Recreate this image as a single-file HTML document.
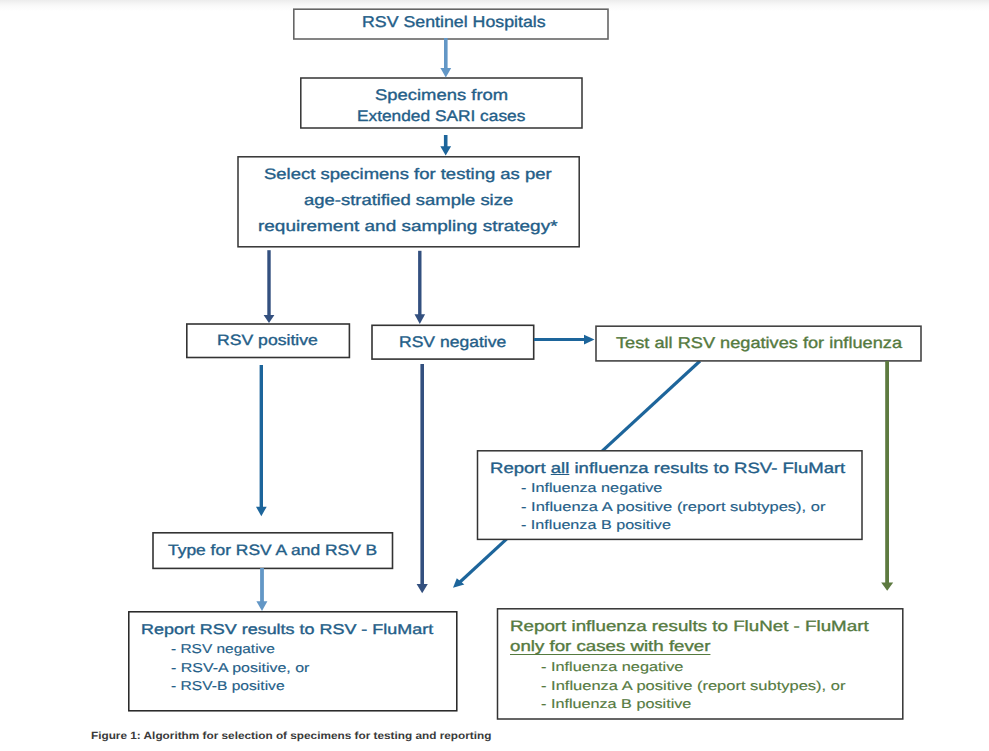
<!DOCTYPE html>
<html><head><meta charset="utf-8"><style>
html,body{margin:0;padding:0;background:#fff;}
body{width:989px;height:751px;position:relative;overflow:hidden;font-family:"Liberation Sans",sans-serif;}
.topband{position:absolute;left:0;top:0;width:989px;height:12px;background:linear-gradient(#ececec,#f4f4f4 25%,#fafafa 50%,#fefefe 85%,#fff);}
svg{position:absolute;left:0;top:0;}
.t{position:absolute;white-space:nowrap;transform-origin:0 0;text-rendering:geometricPrecision;-webkit-text-stroke:0.35px currentColor;}
u{text-decoration-thickness:1.4px;text-underline-offset:2.6px;text-decoration-skip-ink:none;}
</style></head><body>
<div class="topband"></div>
<svg width="989" height="751" viewBox="0 0 989 751">
<line x1="700" y1="361" x2="460" y2="582" stroke="#1d659b" stroke-width="3.1"/>
<g fill="#fff" stroke-linejoin="miter">
<rect x="293.8" y="9.2" width="314.2" height="29.8" stroke="#666" stroke-width="1.6"/>
<rect x="300.8" y="78" width="281.2" height="50" stroke="#333" stroke-width="1.5"/>
<rect x="238" y="156.8" width="341.2" height="90" stroke="#333" stroke-width="1.5"/>
<rect x="186.8" y="324" width="162.6" height="33.5" stroke="#333" stroke-width="1.6"/>
<rect x="372" y="325.3" width="161.7" height="33.8" stroke="#333" stroke-width="1.6"/>
<rect x="596" y="326.2" width="325" height="34.7" stroke="#444" stroke-width="1.6"/>
<rect x="477.5" y="450.8" width="384.5" height="88.6" stroke="#333" stroke-width="1.5"/>
<rect x="153" y="532.8" width="239.5" height="35.6" stroke="#333" stroke-width="1.6"/>
<rect x="128.8" y="611.8" width="328" height="99" stroke="#222" stroke-width="1.5"/>
<rect x="497.5" y="608.8" width="405.3" height="110.2" stroke="#333" stroke-width="1.5"/>
</g>
<g>
<!-- arrow 1 light blue -->
<line x1="445.8" y1="38" x2="445.8" y2="69" stroke="#6397c6" stroke-width="3.6"/>
<polygon points="440.4,68 451.2,68 445.8,77.6" fill="#6397c6"/>
<!-- arrow 2 -->
<line x1="445.7" y1="135" x2="445.7" y2="147" stroke="#1d659b" stroke-width="3.6"/>
<polygon points="440.3,146.3 451.1,146.3 445.7,155.6" fill="#1d659b"/>
<!-- arrow 3 navy -->
<line x1="269" y1="250.2" x2="269" y2="316" stroke="#33507f" stroke-width="3.4"/>
<polygon points="263.6,315 274.4,315 269,323" fill="#33507f"/>
<!-- arrow 4 navy -->
<line x1="419.8" y1="250.8" x2="419.8" y2="315" stroke="#33507f" stroke-width="3.4"/>
<polygon points="414.5,314.3 425.1,314.3 419.8,324" fill="#33507f"/>
<!-- arrow 5 horizontal -->
<line x1="534" y1="339.6" x2="585" y2="339.6" stroke="#1d659b" stroke-width="3"/>
<polygon points="584,334.8 584,344.4 594.5,339.6" fill="#1d659b"/>
<!-- arrow 6 -->
<line x1="261.3" y1="365" x2="261.3" y2="508" stroke="#1d659b" stroke-width="3.4"/>
<polygon points="256,506.7 266.7,506.7 261.3,516.3" fill="#1d659b"/>
<!-- arrow 10 light blue -->
<line x1="262" y1="568" x2="262" y2="602" stroke="#6397c6" stroke-width="3.8"/>
<polygon points="256.4,601.2 267.4,601.2 262,611" fill="#6397c6"/>
<!-- arrow 7 navy -->
<line x1="422.2" y1="364" x2="422.2" y2="585" stroke="#33507f" stroke-width="3.6"/>
<polygon points="416.6,584 427.8,584 422.2,593.2" fill="#33507f"/>
<!-- diagonal -->
<polygon points="453,587.8 456.8,578.3 464.3,584.6" fill="#1d659b"/>
<!-- green -->
<line x1="887.1" y1="361" x2="887.1" y2="583" stroke="#5d7a40" stroke-width="3.8"/>
<polygon points="881.2,582.4 893.2,582.4 887.2,590.8" fill="#5d7a40"/>
</g>
</svg>

<div class="t" id="t0" style="left:361.56px;top:15.10px;font-size:15.63px;line-height:15.63px;color:#245e88;transform:scaleX(1.1367)">RSV Sentinel Hospitals</div>
<div class="t" id="t1" style="left:374.58px;top:88.00px;font-size:15.33px;line-height:15.33px;color:#245e88;transform:scaleX(1.2023)">Specimens from</div>
<div class="t" id="t2" style="left:357.36px;top:108.80px;font-size:15.33px;line-height:15.33px;color:#245e88;transform:scaleX(1.1288)">Extended SARI cases</div>
<div class="t" id="t3" style="left:264.43px;top:167.30px;font-size:15.19px;line-height:15.19px;color:#245e88;transform:scaleX(1.2173)">Select specimens for testing as per</div>
<div class="t" id="t4" style="left:303.69px;top:193.40px;font-size:15.19px;line-height:15.19px;color:#245e88;transform:scaleX(1.2148)">age-stratified sample size</div>
<div class="t" id="t5" style="left:257.89px;top:219.30px;font-size:15.19px;line-height:15.19px;color:#245e88;transform:scaleX(1.2494)">requirement and sampling strategy*</div>
<div class="t" id="t6" style="left:217.43px;top:333.30px;font-size:15.04px;line-height:15.04px;color:#245e88;transform:scaleX(1.1718)">RSV positive</div>
<div class="t" id="t7" style="left:399.45px;top:335.40px;font-size:15.33px;line-height:15.33px;color:#245e88;transform:scaleX(1.1435)">RSV negative</div>
<div class="t" id="t8" style="left:615.54px;top:335.80px;font-size:15.63px;line-height:15.63px;color:#557a3f;transform:scaleX(1.1636)">Test all RSV negatives for influenza</div>
<div class="t" id="t9" style="left:167.62px;top:542.50px;font-size:15.04px;line-height:15.04px;color:#245e88;transform:scaleX(1.1593)">Type for RSV A and RSV B</div>
<div class="t" id="t10" style="left:489.51px;top:461.60px;font-size:14.90px;line-height:14.90px;color:#245e88;transform:scaleX(1.2442)">Report <u style="text-underline-offset:1.3px;text-decoration-thickness:1.2px">all</u> influenza results to RSV- FluMart</div>
<div class="t" id="t11" style="left:140.61px;top:622.80px;font-size:14.32px;line-height:14.32px;color:#245e88;transform:scaleX(1.2536)">Report RSV results to RSV - FluMart</div>
<div class="t" id="t12" style="left:509.58px;top:619.10px;font-size:15.04px;line-height:15.04px;color:#557a3f;transform:scaleX(1.2480)">Report influenza results to FluNet - FluMart</div>
<div class="t" id="t13" style="left:510.25px;top:639.40px;font-size:15.04px;line-height:15.04px;color:#557a3f;transform:scaleX(1.2431)"><u>only for cases with fever</u></div>
<div class="t" id="t14" style="left:520.77px;top:481.80px;font-size:12.86px;line-height:12.86px;color:#245e88;-webkit-text-stroke-width:0.15px;transform:scaleX(1.2593)">- Influenza negative</div>
<div class="t" id="t15" style="left:520.71px;top:500.50px;font-size:12.86px;line-height:12.86px;color:#245e88;-webkit-text-stroke-width:0.15px;transform:scaleX(1.2827)">- Influenza A positive (report subtypes), or</div>
<div class="t" id="t16" style="left:520.75px;top:518.70px;font-size:12.86px;line-height:12.86px;color:#245e88;-webkit-text-stroke-width:0.15px;transform:scaleX(1.2559)">- Influenza B positive</div>
<div class="t" id="t17" style="left:171.39px;top:643.20px;font-size:12.86px;line-height:12.86px;color:#245e88;-webkit-text-stroke-width:0.15px;transform:scaleX(1.2013)">- RSV negative</div>
<div class="t" id="t18" style="left:171.35px;top:661.50px;font-size:12.86px;line-height:12.86px;color:#245e88;-webkit-text-stroke-width:0.15px;transform:scaleX(1.2407)">- RSV-A positive, or</div>
<div class="t" id="t19" style="left:171.40px;top:679.70px;font-size:12.86px;line-height:12.86px;color:#245e88;-webkit-text-stroke-width:0.15px;transform:scaleX(1.2133)">- RSV-B positive</div>
<div class="t" id="t20" style="left:540.52px;top:660.90px;font-size:12.86px;line-height:12.86px;color:#557a3f;-webkit-text-stroke-width:0.15px;transform:scaleX(1.2691)">- Influenza negative</div>
<div class="t" id="t21" style="left:540.52px;top:679.50px;font-size:12.86px;line-height:12.86px;color:#557a3f;-webkit-text-stroke-width:0.15px;transform:scaleX(1.2829)">- Influenza A positive (report subtypes), or</div>
<div class="t" id="t22" style="left:540.53px;top:698.00px;font-size:12.86px;line-height:12.86px;color:#557a3f;-webkit-text-stroke-width:0.15px;transform:scaleX(1.2594)">- Influenza B positive</div>
<div class="t" id="t23" style="left:90.57px;top:731.80px;font-size:10.39px;line-height:10.39px;color:#3a3a3a;font-weight:bold;-webkit-text-stroke:0;transform:scaleX(1.1361)">Figure 1: Algorithm for selection of specimens for testing and reporting</div>
</body></html>
